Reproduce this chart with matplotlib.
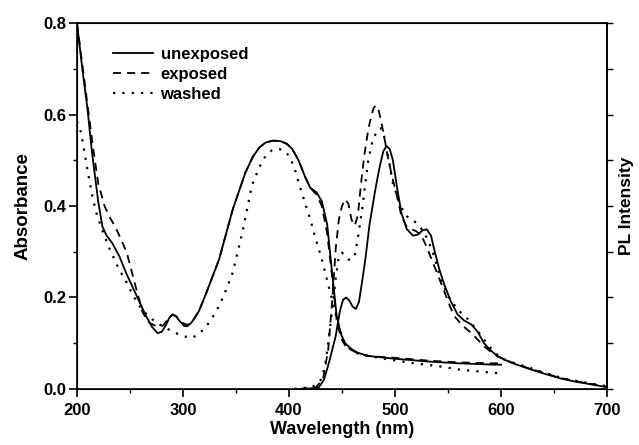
import matplotlib
matplotlib.use("Agg")
import matplotlib.pyplot as plt
from matplotlib.ticker import MultipleLocator, FormatStrFormatter

plt.rcParams["font.family"] = ["Liberation Sans", "DejaVu Sans"]

# absorbance spectra (nm, absorbance)
abs_unexp_x = [200, 205, 210, 214, 220, 224, 228, 233, 240, 247, 257, 265, 271, 276, 280, 284,
               287, 290, 293, 297, 301, 304, 308, 315, 322, 334, 347, 359, 366, 372, 378, 385,
               392, 398, 403, 409, 415, 420, 426, 431, 436, 440, 445, 449, 453, 459, 465, 475,
               500, 531, 560, 594, 600]
abs_unexp_y = [0.80, 0.70, 0.61, 0.52, 0.41, 0.355, 0.335, 0.32, 0.29, 0.25, 0.20, 0.16, 0.135,
               0.122, 0.125, 0.14, 0.155, 0.163, 0.16, 0.148, 0.138, 0.137, 0.145, 0.17, 0.21,
               0.283, 0.393, 0.474, 0.508, 0.528, 0.539, 0.543, 0.542, 0.536, 0.525, 0.50, 0.465,
               0.44, 0.43, 0.41, 0.36, 0.269, 0.159, 0.12, 0.10, 0.087, 0.079, 0.072, 0.066,
               0.06, 0.056, 0.053, 0.053]

abs_exp_x = [200, 205, 210, 215, 220, 226, 231, 236, 241, 247, 256, 262, 268, 275, 281, 285,
             290, 294, 299, 304, 309, 315, 322, 334, 347, 359, 366, 372, 378, 385, 392, 398,
             403, 409, 415, 420, 426, 431, 436, 440, 445, 449, 453, 459, 465, 475, 500, 531,
             560, 594, 600]
abs_exp_y = [0.80, 0.71, 0.62, 0.53, 0.45, 0.40, 0.375, 0.355, 0.33, 0.298, 0.218, 0.167, 0.145,
             0.137, 0.138, 0.15, 0.162, 0.158, 0.145, 0.14, 0.148, 0.17, 0.21, 0.283, 0.393,
             0.474, 0.508, 0.528, 0.539, 0.543, 0.542, 0.536, 0.525, 0.50, 0.465, 0.44, 0.425,
             0.40, 0.34, 0.26, 0.15, 0.112, 0.095, 0.085, 0.078, 0.072, 0.068, 0.062, 0.058,
             0.056, 0.056]

abs_wash_x = [200, 204, 209, 215, 219, 225, 231, 239, 247, 254, 261, 268, 275, 283, 290, 298,
              308, 315, 322, 328, 334, 340, 347, 356, 365, 372, 378, 384, 390, 395, 400, 405,
              409, 414, 419, 425, 431, 439, 447, 452, 460, 468, 490, 515, 540, 562, 594, 600]
abs_wash_y = [0.585, 0.56, 0.49, 0.415, 0.379, 0.34, 0.305, 0.265, 0.232, 0.2, 0.174, 0.158,
              0.145, 0.134, 0.126, 0.117, 0.111, 0.12, 0.137, 0.157, 0.181, 0.213, 0.255, 0.342,
              0.445, 0.485, 0.51, 0.522, 0.525, 0.522, 0.51, 0.485, 0.452, 0.415, 0.379, 0.33,
              0.283, 0.21, 0.137, 0.10, 0.082, 0.075, 0.066, 0.057, 0.05, 0.042, 0.035, 0.035]

# photoluminescence spectra (nm, normalised intensity)
pl_unexp_x = [415, 428, 433, 438, 444, 448, 451, 454, 457, 460, 463, 466, 469, 472, 476, 481,
              485, 489, 492, 495, 498, 502, 506, 511, 517, 522, 526, 530, 534, 537, 542, 547,
              553, 559, 565, 572, 578, 584, 590, 597, 610, 625, 640, 656, 670, 685, 697, 700]
pl_unexp_y = [0.0, 0.003, 0.02, 0.06, 0.115, 0.17, 0.195, 0.2, 0.193, 0.18, 0.175, 0.19, 0.235,
              0.283, 0.36, 0.43, 0.48, 0.52, 0.531, 0.525, 0.5, 0.44, 0.385, 0.35, 0.335, 0.338,
              0.347, 0.349, 0.335, 0.305, 0.26, 0.225, 0.19, 0.163, 0.15, 0.141, 0.125, 0.10,
              0.085, 0.071, 0.057, 0.045, 0.034, 0.023, 0.016, 0.01, 0.005, 0.004]

pl_exp_x = [410, 425, 432, 437, 441, 444, 447, 450, 453, 456, 459, 462, 465, 468, 471, 475,
            478, 480, 482, 484, 486, 489, 493, 497, 501, 506, 511, 516, 520, 525, 530, 537,
            542, 547, 552, 556, 564, 572, 578, 584, 590, 597, 610, 625, 640, 656, 670, 685,
            697, 700]
pl_exp_y = [0.0, 0.003, 0.02, 0.086, 0.2, 0.305, 0.37, 0.40, 0.415, 0.405, 0.37, 0.357, 0.38,
            0.45, 0.51, 0.57, 0.60, 0.615, 0.62, 0.615, 0.595, 0.562, 0.51, 0.467, 0.43, 0.379,
            0.355, 0.349, 0.345, 0.335, 0.31, 0.269, 0.24, 0.21, 0.18, 0.159, 0.138, 0.122,
            0.108, 0.093, 0.082, 0.071, 0.058, 0.046, 0.035, 0.024, 0.017, 0.011, 0.006, 0.005]

pl_wash_x = [405, 422, 430, 434, 437, 440, 444, 447, 450, 453, 456, 459, 462, 465, 469, 472,
             475, 479, 484, 487, 490, 494, 498, 503, 509, 515, 520, 525, 531, 537, 543, 551,
             559, 569, 577, 584, 592, 600, 612, 625, 640, 656, 670, 685, 697, 700]
pl_wash_y = [0.0, 0.004, 0.02, 0.049, 0.1, 0.159, 0.24, 0.29, 0.298, 0.29, 0.283, 0.283, 0.29,
             0.33, 0.393, 0.45, 0.503, 0.545, 0.568, 0.57, 0.55, 0.503, 0.45, 0.415, 0.382,
             0.37, 0.364, 0.35, 0.327, 0.29, 0.24, 0.2, 0.174, 0.152, 0.13, 0.108, 0.085, 0.067,
             0.057, 0.048, 0.036, 0.025, 0.018, 0.012, 0.007, 0.006]

labels = ["unexposed", "exposed", "washed"]
styles = ["-", (0, (4.5, 3.3)), (0, (1, 3.2))]
widths = [1.3, 1.3, 1.6]

fig = plt.figure(figsize=(6.39, 4.45), dpi=100)
ax = fig.add_axes([0.1205, 0.126, 0.8294, 0.822])

abs_sets = [(abs_unexp_x, abs_unexp_y), (abs_exp_x, abs_exp_y), (abs_wash_x, abs_wash_y)]
pl_sets = [(pl_unexp_x, pl_unexp_y), (pl_exp_x, pl_exp_y), (pl_wash_x, pl_wash_y)]
for (ax_, ay_), (px_, py_), lab, ls, lw in zip(abs_sets, pl_sets, labels, styles, widths):
    ax.plot(ax_, ay_, color="black", ls=ls, lw=lw, label=lab)
    ax.plot(px_, py_, color="black", ls=ls, lw=lw)

ax.set_xlim(200, 700)
ax.set_ylim(0, 0.8)
ax.xaxis.set_major_locator(MultipleLocator(100))
ax.xaxis.set_minor_locator(MultipleLocator(50))
ax.yaxis.set_major_locator(MultipleLocator(0.2))
ax.yaxis.set_minor_locator(MultipleLocator(0.1))
ax.yaxis.set_major_formatter(FormatStrFormatter("%.1f"))
ax.tick_params(which="major", direction="out", length=6, width=1.2, labelsize=12)
ax.tick_params(which="minor", direction="out", length=3, width=1.0)
ax.tick_params(axis="y", which="major", pad=2)
ax.tick_params(axis="x", which="major", pad=4)
for t in ax.get_xticklabels() + ax.get_yticklabels():
    t.set_fontweight("bold")
for sp in ax.spines.values():
    sp.set_linewidth(1.2)
ax.set_xlabel("Wavelength (nm)", fontsize=13, fontweight="bold", labelpad=2)
ax.set_ylabel("Absorbance", fontsize=13.5, fontweight="bold", labelpad=8)

ax2 = ax.twinx()
ax2.set_ylim(0, 0.8)
ax2.yaxis.set_major_locator(MultipleLocator(0.2))
ax2.yaxis.set_minor_locator(MultipleLocator(0.1))
ax2.tick_params(which="both", direction="out", length=4, width=1.0, labelright=False)
ax2.spines["right"].set_linewidth(1.2)
ax2.set_ylabel("PL Intensity", fontsize=12.5, fontweight="bold", labelpad=5)

leg = ax.legend(loc="upper left", bbox_to_anchor=(0.068, 0.935), frameon=False,
                borderaxespad=0, borderpad=0, handlelength=2.4, handletextpad=0.45,
                labelspacing=0.3, prop={"size": 12, "weight": "bold"})

fig.savefig("out.png", dpi=100)
